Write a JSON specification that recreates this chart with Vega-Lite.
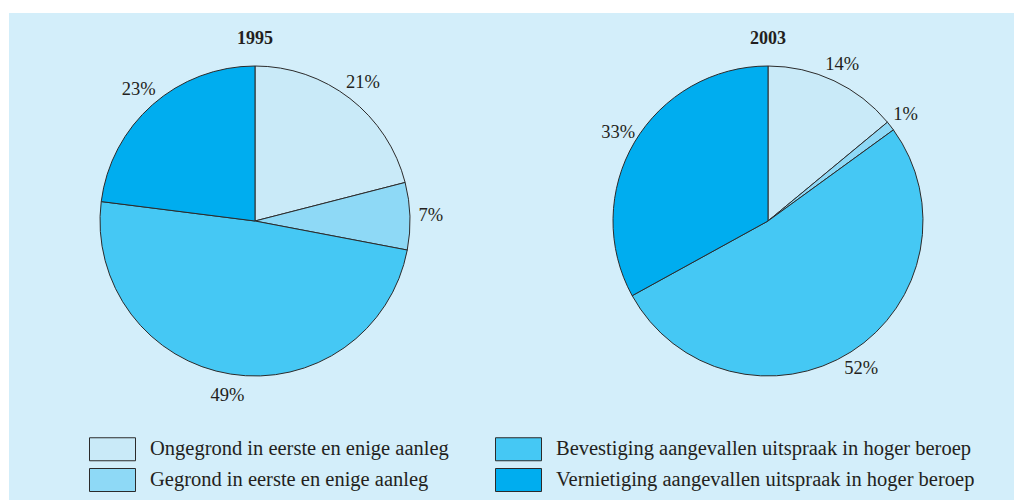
{
  "$schema": "https://vega.github.io/schema/vega-lite/v6.json",
  "width": 1005,
  "height": 487,
  "padding": {"left": 9, "top": 13, "right": 0, "bottom": 0},
  "autosize": {"type": "none"},
  "background": "white",
  "config": {
    "view": {"fill": "#d3eefa", "stroke": null},
    "font": "Liberation Serif",
    "text": {"font": "Liberation Serif", "color": "#231f20"}
  },
  "datasets": {
    "shares": [
      {"year": "1995", "cat": "Ongegrond in eerste en enige aanleg", "pct": 21, "o": 1, "label": "21%"},
      {"year": "1995", "cat": "Gegrond in eerste en enige aanleg", "pct": 7, "o": 2, "label": "7%"},
      {"year": "1995", "cat": "Bevestiging aangevallen uitspraak in hoger beroep", "pct": 49, "o": 3, "label": "49%"},
      {"year": "1995", "cat": "Vernietiging aangevallen uitspraak in hoger beroep", "pct": 23, "o": 4, "label": "23%"},
      {"year": "2003", "cat": "Ongegrond in eerste en enige aanleg", "pct": 14, "o": 1, "label": "14%"},
      {"year": "2003", "cat": "Gegrond in eerste en enige aanleg", "pct": 1, "o": 2, "label": "1%"},
      {"year": "2003", "cat": "Bevestiging aangevallen uitspraak in hoger beroep", "pct": 52, "o": 3, "label": "52%"},
      {"year": "2003", "cat": "Vernietiging aangevallen uitspraak in hoger beroep", "pct": 33, "o": 4, "label": "33%"}
    ],
    "titles": [{"year": "1995"}, {"year": "2003"}]
  },
  "layer": [
    {
      "data": {"name": "shares"},
      "transform": [{"filter": "datum.year === '1995'"}],
      "mark": {"type": "arc", "outerRadius": 155, "stroke": "#2b2b2b", "strokeWidth": 1},
      "encoding": {
        "x": {"field": "year", "type": "nominal", "scale": {"type": "point", "domain": ["1995", "2003"], "padding": 0.47953}, "axis": null},
        "y": {"datum": "pie", "type": "nominal", "scale": {"type": "point", "domain": ["title", "pie"], "padding": 0.8379, "align": 0.08525}, "axis": null},
        "theta": {"field": "pct", "type": "quantitative", "stack": true},
        "order": {"field": "o", "type": "quantitative"},
        "color": {
          "field": "cat",
          "type": "nominal",
          "scale": {
            "domain": [
              "Ongegrond in eerste en enige aanleg",
              "Gegrond in eerste en enige aanleg",
              "Bevestiging aangevallen uitspraak in hoger beroep",
              "Vernietiging aangevallen uitspraak in hoger beroep"
            ],
            "range": ["#c9eaf8", "#8ed9f6", "#45c8f4", "#00adef"]
          },
          "legend": {
            "orient": "none",
            "legendX": 91.5,
            "legendY": 424,
            "columns": 2,
            "title": null,
            "symbolType": "M-2,-1H2V1H-2Z",
            "symbolSize": 529,
            "symbolStrokeColor": "#3a3a3a",
            "symbolStrokeWidth": 1,
            "symbolOpacity": 1,
            "labelFont": "Liberation Serif",
            "labelFontSize": 20.5,
            "labelColor": "#231f20",
            "labelOffset": 25.5,
            "labelLimit": 700,
            "columnPadding": 44,
            "rowPadding": 3,
            "padding": 0
          }
        }
      }
    },
    {
      "data": {"name": "shares"},
      "transform": [{"filter": "datum.year === '2003'"}],
      "mark": {"type": "arc", "outerRadius": 155, "stroke": "#2b2b2b", "strokeWidth": 1},
      "encoding": {
        "x": {"field": "year", "type": "nominal"},
        "y": {"datum": "pie", "type": "nominal"},
        "theta": {"field": "pct", "type": "quantitative", "stack": true},
        "order": {"field": "o", "type": "quantitative"},
        "color": {"field": "cat", "type": "nominal"}
      }
    },
    {
      "data": {"name": "shares"},
      "transform": [{"filter": "datum.year === '1995'"}],
      "mark": {"type": "text", "radius": 176, "fontSize": 18.5},
      "encoding": {
        "x": {"field": "year", "type": "nominal"},
        "y": {"datum": "pie", "type": "nominal"},
        "theta": {"field": "pct", "type": "quantitative", "stack": true},
        "order": {"field": "o", "type": "quantitative"},
        "text": {"field": "label", "type": "nominal"}
      }
    },
    {
      "data": {"name": "shares"},
      "transform": [{"filter": "datum.year === '2003'"}],
      "mark": {"type": "text", "radius": 174, "fontSize": 18.5},
      "encoding": {
        "x": {"field": "year", "type": "nominal"},
        "y": {"datum": "pie", "type": "nominal"},
        "theta": {"field": "pct", "type": "quantitative", "stack": true},
        "order": {"field": "o", "type": "quantitative"},
        "text": {"field": "label", "type": "nominal"}
      }
    },
    {
      "data": {"name": "titles"},
      "mark": {"type": "text", "fontSize": 18, "fontWeight": "bold"},
      "encoding": {
        "x": {"field": "year", "type": "nominal"},
        "y": {"datum": "title", "type": "nominal"},
        "text": {"field": "year", "type": "nominal"}
      }
    }
  ]
}
